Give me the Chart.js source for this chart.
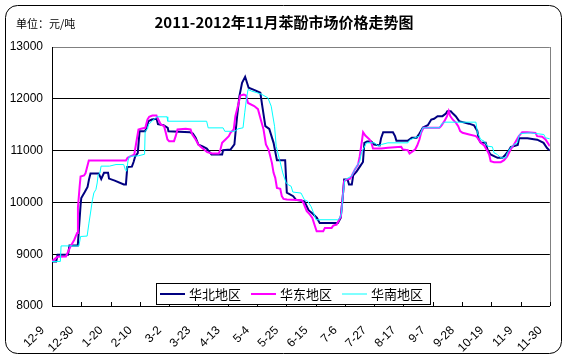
<!DOCTYPE html>
<html>
<head>
<meta charset="utf-8">
<script src="https://cdn.jsdelivr.net/npm/chart.js@4.4.0/dist/chart.umd.min.js"></script>
<style>
  html, body { margin: 0; padding: 0; background: #fff; }
  #wrap { width: 568px; height: 360px; }
</style>
</head>
<body>
<div id="wrap"><canvas id="chart" width="568" height="360"></canvas></div>
<script>
const titleText = '2011-2012年11月苯酚市场价格走势图';
const unitText = '单位：元/吨';
const seriesNames = ['华北地区', '华东地区', '华南地区'];

// x = days since 12-9 (2011); a tick label every 21 days
const tickLabels = ['12-9', '12-30', '1-20', '2-10', '3-2', '3-23', '4-13', '5-4', '5-25',
  '6-15', '7-6', '7-27', '8-17', '9-7', '9-28', '10-19', '11-9', '11-30'];
const yTicks = [8000, 9000, 10000, 11000, 12000, 13000];

const northDays = [0, 3, 4, 11.5, 12.5, 18.5, 20.5, 21, 23.5, 25.5, 26.5, 27.6, 33.5, 35.3, 37.3, 40.2, 40.9, 45,
  51.5, 53, 54, 57.3, 58.5, 59.7, 61.5, 62.8, 66.8, 68, 69.2, 71.6, 75, 76, 80, 83, 83.5, 99, 101, 103, 105, 108,
  111, 114.4, 122, 122.7, 128, 130.8, 132.7, 134.4, 136.3, 138.5, 141, 145.3, 149.4, 151, 153, 155.8, 158.9,
  161.3, 167.2, 168.4, 173, 175, 181, 184, 187, 190, 192, 205, 207, 208.5, 209.5, 212, 213, 215, 216, 218.5,
  221, 223, 224, 226, 229, 231, 235, 236, 237.5, 244.5, 246, 247, 255, 256.5, 258, 261.5, 263.5, 265, 266,
  269.5, 272, 274, 276.5, 280, 282.5, 283.5, 286, 287.5, 289.5, 292, 294.5, 299, 302.6, 305, 306, 307.5, 311,
  312.3, 314.5, 319.5, 323, 324.5, 328, 329, 334, 335, 341, 345.5, 348, 352.5, 355, 357];
const northPrices = [8860, 8860, 8990, 8990, 9170, 9170, 9950, 10085, 10200, 10300, 10440, 10560, 10560, 10450,
  10570, 10570, 10460, 10420, 10345, 10345, 10685, 10690, 10780, 10890, 10950, 11373, 11373, 11470, 11567,
  11600, 11613, 11510, 11490, 11440, 11373, 11354, 11330, 11250, 11116, 11080, 11040, 10923, 10923, 11006,
  11021, 11118, 11652, 12052, 12309, 12425, 12213, 12167, 12116, 11826, 11472, 11420, 11150, 10815, 10815,
  10190, 10120, 10050, 10020, 9850, 9780, 9700, 9600, 9600, 9700, 10100, 10440, 10440, 10345, 10345, 10520,
  10600, 10700, 10780, 11150, 11175, 11175, 11118, 11100, 11240, 11356, 11356, 11280, 11190, 11190, 11220,
  11250, 11250, 11330, 11400, 11445, 11490, 11600, 11615, 11665, 11665, 11715, 11760, 11760, 11715, 11665,
  11568, 11550, 11520, 11490, 11380, 11220, 11150, 11150, 11020, 10925, 10860, 10860, 10900, 11020, 11070,
  11110, 11240, 11240, 11220, 11210, 11150, 11050, 11000];

const eastDays = [0, 2.5, 4, 10, 13.3, 16, 18, 18.6, 19.8, 20.5, 23, 24, 26.4, 53, 54.2, 56.6, 59, 60.2, 62, 63.8,
  66.9, 68.5, 69.7, 72, 74.9, 75.6, 78, 80.4, 81.6, 82.8, 84, 87.5, 88.7, 90, 95.9, 99.4, 100.6, 103, 104.9,
  106.6, 109, 111.3, 114.9, 119.6, 120.8, 122, 124.4, 126.8, 128, 130.3, 131.5, 133.9, 135, 137.5, 139.1, 140.6,
  145, 147.7, 150.1, 151.7, 153.4, 155.3, 157.7, 158.9, 160.1, 161.3, 163.7, 164.8, 166, 168.4, 179.1, 180.3,
  182.7, 185, 186.7, 188.6, 189.8, 194.5, 195.7, 200.5, 201.7, 204.1, 205.3, 207.2, 208.1, 209.5, 211.2,
  213.6, 214.8, 217.2, 219.5, 220.7, 222.4, 223.1, 224.7, 227.8, 229, 230.2, 236.2, 240.9, 250.4, 251.6,
  255.2, 256.4, 258.8, 260.4, 261.9, 263.5, 264.7, 266.4, 277.8, 279, 281.4, 283.3, 284.5, 285.6, 287.3,
  289.7, 291.3, 292.7, 294.4, 299.2, 303.9, 305.1, 307.5, 309.9, 312.3, 313.5, 314.6, 317, 321.8, 324.2,
  326.5, 328.9, 331.3, 334.8, 337.2, 340.8, 346.7, 347.9, 351.5, 353.9, 357];
const eastPrices = [8860, 8920, 8950, 8955, 9150, 9280, 9410, 9900, 10300, 10500, 10520, 10560, 10810, 10810,
  10860, 10892, 10924, 11118, 11407, 11420, 11440, 11600, 11652, 11678, 11678, 11633, 11504, 11472, 11343,
  11214, 11182, 11182, 11279, 11407, 11420, 11407, 11310, 11214, 11118, 11073, 11021, 10970, 10944, 10944,
  11021, 11150, 11214, 11279, 11343, 11407, 11665, 11923, 12065, 12084, 12065, 11920, 11860, 11800, 11560,
  11407, 11118, 11021, 10763, 10570, 10474, 10281, 10262, 10120, 10068, 10055, 10042, 9991, 9830, 9765,
  9701, 9540, 9443, 9443, 9508, 9508, 9553, 9572, 9637, 9733, 9991, 10409, 10442, 10454, 10506, 10635,
  10731, 10892, 11214, 11356, 11292, 11214, 11150, 11040, 11040, 11053, 11073, 11021, 11008, 10944, 10989,
  11021, 11098, 11214, 11343, 11440, 11440, 11472, 11569, 11665, 11762, 11665, 11601, 11536, 11472, 11375,
  11343, 11311, 11279, 11247, 11150, 11098, 10989, 10925, 10796, 10776, 10776, 10815, 10892, 11021, 11118,
  11279, 11356, 11356, 11343, 11279, 11266, 11214, 11086];

const southDays = [0, 6, 6.5, 19.3, 20.5, 25.2, 26.5, 27.6, 29, 30, 31.5, 32.4, 33.1, 34.3, 35.2, 41.2, 45.9,
  51.4, 52.6, 53.5, 54.5, 55.5, 62.1, 66.4, 66.8, 68.5, 69.2, 71.6, 75.2, 82.5, 83, 110.9, 112, 122.7, 123.9,
  131.1, 133.4, 137, 138.2, 139.4, 140.6, 143, 146.5, 150.1, 154.8, 157.2, 159.6, 160.8, 163.2, 165.5, 167.9,
  169.6, 171.5, 172.7, 178.6, 181, 183.4, 185.8, 188.1, 189.3, 204.8, 206.5, 207.6, 208.8, 210, 212.4,
  214.8, 217.2, 220.7, 221.9, 223.1, 225.5, 231.4, 233.8, 236.2, 240.9, 255.2, 256.4, 259.9, 263.5, 265.9,
  277.8, 279, 281.4, 304, 305.1, 307.5, 309.9, 312.3, 315.8, 317, 319.4, 321.8, 325.4, 326.5, 328.9, 331.3,
  333.7, 334.8, 336, 343.2, 346.7, 352.7, 353.9, 357];
const southPrices = [8860, 8860, 9160, 9160, 9342, 9350, 9600, 9795, 10050, 10182, 10250, 10375, 10536, 10560,
  10700, 10700, 10731, 10731, 10632, 10602, 10800, 10890, 10900, 10930, 11373, 11420, 11500, 11567, 11652,
  11652, 11567, 11567, 11439, 11439, 11373, 11373, 11420, 11440, 11729, 11987, 12180, 12150, 12122, 12090,
  12019, 11857, 11470, 11083, 10826, 10569, 10375, 10340, 10310, 10200, 10180, 10052, 10020, 9920, 9760,
  9665, 9665, 9701, 9798, 10184, 10429, 10474, 10506, 10635, 10796, 10957, 11021, 11150, 11150, 11086,
  11118, 11150, 11150, 11201, 11247, 11279, 11440, 11440, 11504, 11549, 11549, 11343, 11214, 11182, 11086,
  11073, 10957, 10925, 10860, 10860, 10957, 11053, 11118, 11150, 11279, 11330, 11343, 11330, 11311, 11247,
  11227];

const toPoints = (days, prices) => days.map((d, i) => ({ x: d, y: prices[i] }));

const framePlugin = {
  id: 'frame',
  beforeDraw(chart) {
    const { ctx } = chart;
    ctx.save();
    ctx.fillStyle = '#fff';
    ctx.fillRect(0, 0, chart.width, chart.height);
    ctx.beginPath();
    ctx.roundRect(5.5, 5.5, 556, 348, 12);
    ctx.strokeStyle = '#000';
    ctx.lineWidth = 1;
    ctx.stroke();

    ctx.fillStyle = '#000';
    ctx.textBaseline = 'middle';
    ctx.textAlign = 'left';
    ctx.font = '11px "Noto Sans CJK SC"';
    ctx.fillText(unitText, 16, 24);
    ctx.textAlign = 'center';
    ctx.font = 'bold 15px "Noto Sans CJK SC"';
    ctx.fillText(titleText, 284, 22);
    ctx.restore();
  },
  afterDraw(chart) {
    const { ctx, chartArea: a } = chart;
    const xs = chart.scales.x;
    ctx.save();
    ctx.lineWidth = 1;
    ctx.strokeStyle = '#808080';
    ctx.beginPath();
    ctx.moveTo(Math.round(a.right) + 0.5, a.top);
    ctx.lineTo(Math.round(a.right) + 0.5, a.bottom);
    ctx.stroke();

    // little tick marks pointing into the plot
    ctx.strokeStyle = '#000';
    ctx.beginPath();
    xs.ticks.forEach((t) => {
      const px = Math.round(xs.getPixelForValue(t.value)) + 0.5;
      ctx.moveTo(px, a.bottom);
      ctx.lineTo(px, a.bottom - 4);
    });
    ctx.stroke();

    // legend box
    ctx.fillStyle = '#fff';
    ctx.fillRect(156.5, 283.5, 274, 21);
    ctx.strokeRect(156.5, 283.5, 274, 21);
    ctx.font = '13px "Noto Sans CJK SC"';
    ctx.textBaseline = 'middle';
    ctx.textAlign = 'left';
    chart.data.datasets.forEach((ds, i) => {
      const x0 = 160 + i * 91;
      ctx.strokeStyle = ds.borderColor;
      ctx.lineWidth = ds.borderWidth;
      ctx.beginPath();
      ctx.moveTo(x0, 294);
      ctx.lineTo(x0 + 25, 294);
      ctx.stroke();
      ctx.fillStyle = '#000';
      ctx.fillText(ds.label, x0 + 29, 294);
    });
    ctx.restore();
  }
};

new Chart(document.getElementById('chart'), {
  type: 'line',
  data: {
    datasets: [
      { label: seriesNames[0], data: toPoints(northDays, northPrices), borderColor: '#000080', borderWidth: 2, order: 3 },
      { label: seriesNames[1], data: toPoints(eastDays, eastPrices), borderColor: '#FF00FF', borderWidth: 2, order: 2 },
      { label: seriesNames[2], data: toPoints(southDays, southPrices), borderColor: '#00FFFF', borderWidth: 1, order: 1 }
    ]
  },
  options: {
    responsive: false,
    animation: false,
    events: [],
    elements: { point: { radius: 0 }, line: { tension: 0 } },
    layout: { padding: { top: 47, right: 15, left: 0, bottom: 0 } },
    plugins: { legend: { display: false }, tooltip: { enabled: false } },
    scales: {
      x: {
        type: 'linear',
        min: 0,
        max: 357,
        afterFit: (s) => { s.height = 54; },
        grid: { display: true, drawOnChartArea: false, drawTicks: false },
        border: { color: '#000' },
        ticks: {
          stepSize: 21,
          autoSkip: false,
          maxRotation: 45,
          minRotation: 45,
          padding: 8,
          color: '#000',
          font: { family: '"Liberation Sans", Arial', size: 12 },
          callback: (v) => (tickLabels[Math.round(v / 21)] || '') + '    '
        }
      },
      y: {
        min: yTicks[0],
        max: yTicks[yTicks.length - 1],
        afterFit: (s) => { s.width = 52; },
        afterBuildTicks: (s) => { s.ticks = yTicks.map((v) => ({ value: v })); },
        grid: {
          drawTicks: false,
          color: (c) => (c.tick && c.tick.value === 13000 ? '#808080' : '#000')
        },
        border: { color: '#000' },
        ticks: {
          padding: 9,
          color: '#000',
          font: { family: '"Liberation Sans", Arial', size: 12 },
          callback: (v) => String(v)
        }
      }
    }
  },
  plugins: [framePlugin]
});
</script>
</body>
</html>
